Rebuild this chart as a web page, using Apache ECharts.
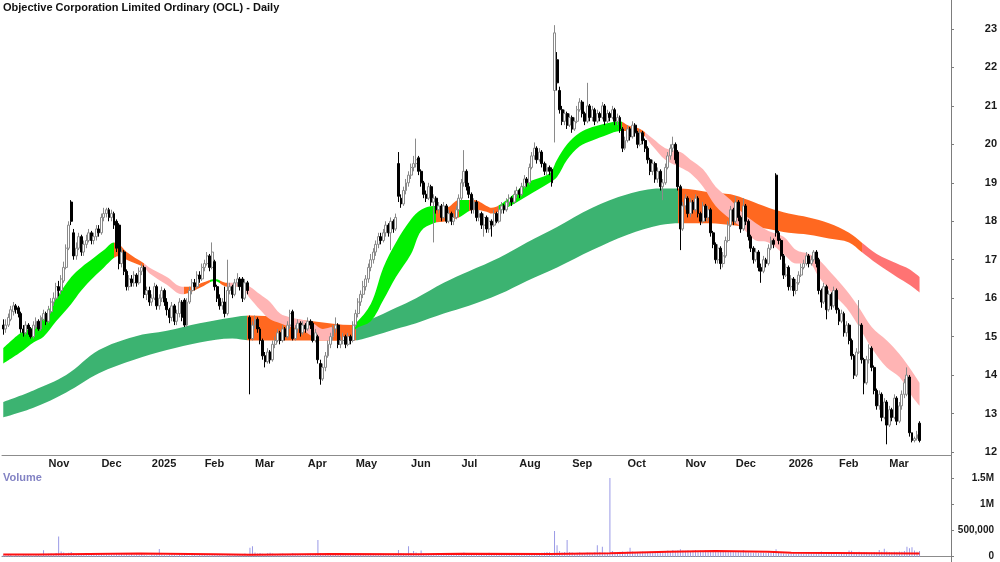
<!DOCTYPE html>
<html>
<head>
<meta charset="utf-8">
<title>OCL Daily</title>
<script src="https://cdn.jsdelivr.net/npm/echarts@6/dist/echarts.min.js"></script>
<style>
  html, body { margin: 0; padding: 0; background: #fff; }
  #chart { width: 1000px; height: 562px; }
</style>
</head>
<body>
<div id="chart"></div>
<script>
// ---- trading calendar ----
const startDate = '2024-10-08'
const holidays = ['2024-12-25', '2024-12-26', '2025-01-01', '2025-01-27', '2025-04-18', '2025-04-21',
  '2025-04-25', '2025-06-09', '2025-12-25', '2025-12-26', '2026-01-01', '2026-01-26']
const padDays = 12 // empty space right of the last bar
const monthNames = ['Jan', 'Feb', 'Mar', 'Apr', 'May', 'Jun', 'Jul', 'Aug', 'Sep', 'Oct', 'Nov', 'Dec']

// ---- daily bars [open, close, low, high] ----
const candles = [
  // Oct 2024
  [15.3,15.2,15.05,15.45],[15.2,15.3,15.1,15.45],[15.3,15.5,15.25,15.6],[15.45,15.7,15.4,15.8],[15.65,15.8,15.55,15.9],
  [15.8,15.7,15.6,15.85],[15.75,15.6,15.5,15.8],[15.6,15.2,15.1,15.65],[15.2,15.1,15.0,15.3],[15.1,15.3,15.05,15.4],
  [15.3,15.2,15.05,15.35],[15.2,15.0,14.95,15.25],[15.0,15.3,14.95,15.4],[15.25,15.4,15.2,15.5],[15.4,15.2,15.15,15.45],
  [15.2,15.5,15.15,15.55],[15.45,15.6,15.4,15.7],[15.6,15.4,15.3,15.65],
  // Nov
  [15.4,15.7,15.35,15.8],[15.65,15.9,15.6,16.0],[15.9,16.0,15.8,16.15],[16.0,16.3,15.95,16.4],[16.3,16.2,16.05,16.45],
  [16.2,16.5,16.1,16.6],[16.45,16.8,16.4,16.95],[16.8,17.3,16.75,17.4],[17.3,17.9,17.25,18.0],[18.5,18.0,17.9,18.55],
  [17.7,17.1,17.0,17.8],[17.1,17.3,17.0,17.45],[17.3,17.6,17.25,17.7],[17.6,17.2,17.1,17.65],[17.2,17.4,17.1,17.5],
  [17.4,17.5,17.3,17.65],[17.5,17.7,17.45,17.8],[17.7,17.5,17.4,17.75],[17.5,17.6,17.4,17.7],[17.6,17.8,17.5,17.9],
  [17.8,17.7,17.6,17.9],
  // Dec
  [17.7,18.1,17.65,18.2],[18.1,18.2,18.0,18.35],[18.2,18.3,18.1,18.35],[18.3,18.1,18.0,18.35],[18.1,18.2,18.0,18.3],
  [18.2,17.9,17.8,18.25],[18.0,17.3,17.2,18.05],[17.9,16.9,16.75,17.95],[16.9,17.2,16.8,17.3],[17.2,16.7,16.6,17.25],
  [16.7,16.3,16.2,16.75],[16.3,16.5,16.2,16.6],[16.5,16.4,16.3,16.6],[16.4,16.6,16.3,16.7],[16.6,16.4,16.3,16.65],
  [16.4,16.7,16.35,16.8],[16.7,16.8,16.6,16.9],[16.8,16.1,16.0,16.85],[16.1,16.2,15.95,16.3],[16.2,15.9,15.8,16.3],
  // Jan 2025
  [15.9,16.0,15.8,16.1],[16.0,16.3,15.95,16.4],[16.3,15.8,15.7,16.35],[15.8,16.0,15.7,16.1],[16.0,16.2,15.9,16.3],
  [16.2,15.9,15.8,16.25],[15.9,15.7,15.55,16.0],[15.7,15.5,15.35,15.75],[15.5,15.8,15.4,15.9],[15.8,15.4,15.3,15.85],
  [15.4,15.6,15.3,15.7],[15.6,15.9,15.5,16.0],[15.9,15.5,15.4,15.95],[15.95,15.3,15.25,16.0],[15.3,15.9,15.25,16.0],
  [15.9,16.2,15.85,16.3],[16.2,16.4,16.1,16.5],[16.4,16.3,16.2,16.5],[16.3,16.6,16.25,16.7],[16.6,16.5,16.4,16.7],
  [16.5,16.8,16.45,16.9],
  // Feb
  [16.8,16.9,16.7,17.0],[16.9,17.1,16.85,17.2],[17.1,16.8,16.7,17.15],[16.8,17.2,16.75,17.45],[16.95,16.3,16.2,17.0],
  [16.3,16.0,15.9,16.35],[16.0,15.8,15.7,16.1],[15.8,15.9,15.7,16.0],[15.9,15.6,15.5,16.3],[15.6,16.2,15.55,17.0],
  [16.2,16.3,16.1,16.4],[16.3,16.1,16.0,16.35],[16.1,16.4,16.05,16.5],[16.4,16.5,16.3,16.65],[16.5,16.3,16.2,16.55],
  [16.5,16.0,15.9,16.55],[16.0,16.4,15.95,16.5],[16.4,16.2,16.1,16.45],[15.5,14.95,13.5,15.55],[14.95,15.3,14.9,15.4],
  // Mar
  [15.3,15.45,15.2,15.55],[15.45,15.2,15.1,15.5],[15.2,14.9,14.8,15.25],[14.9,14.5,14.4,14.95],[14.5,14.35,14.2,14.6],
  [14.35,14.6,14.3,14.7],[14.6,14.4,14.3,14.65],[14.4,14.8,14.35,14.9],[14.8,14.9,14.7,15.0],[14.9,15.1,14.85,15.2],
  [15.1,14.9,14.8,15.15],[14.9,15.2,14.85,15.3],[15.2,15.0,14.9,15.25],[15.0,15.3,14.95,15.4],[15.3,15.6,15.2,15.7],
  [15.65,14.95,14.9,15.7],[14.95,15.2,14.9,15.3],[15.2,15.35,15.1,15.45],[15.35,15.1,15.0,15.4],[15.1,15.3,15.05,15.4],
  [15.3,15.2,15.1,15.35],
  // Apr
  [15.2,15.4,15.15,15.5],[15.4,15.3,15.2,15.45],[15.35,14.9,14.85,15.4],[14.9,15.1,14.85,15.2],[15.0,14.4,14.3,15.05],
  [14.3,13.9,13.75,14.4],[13.9,14.2,13.85,14.3],[14.2,14.5,14.1,14.6],[14.5,14.8,14.45,14.9],[14.8,15.0,14.7,15.1],
  [15.0,15.2,14.9,15.3],[15.2,15.3,15.1,15.5],[15.3,14.8,14.7,15.35],[14.8,14.9,14.7,15.0],[14.9,15.0,14.8,15.1],
  [15.0,14.8,14.7,15.05],[14.8,15.0,14.75,15.1],[15.0,14.9,14.8,15.05],[14.9,15.3,14.85,15.4],
  // May
  [15.3,15.6,15.25,15.7],[15.6,15.9,15.5,16.0],[15.9,16.1,15.8,16.2],[16.1,16.3,16.0,16.45],[16.3,16.5,16.2,16.6],
  [16.5,16.8,16.4,16.9],[16.8,17.0,16.7,17.15],[17.0,17.2,16.9,17.3],[17.2,17.4,17.1,17.5],[17.4,17.6,17.3,17.7],
  [17.6,17.5,17.4,17.7],[17.5,17.7,17.45,17.8],[17.7,17.9,17.6,18.0],[17.9,17.7,17.6,17.95],[17.7,18.0,17.25,18.1],
  [18.0,17.8,17.7,18.05],[17.8,18.1,17.75,18.2],[19.5,18.65,18.5,19.8],[18.6,18.45,18.35,18.7],[18.45,18.8,18.4,18.9],
  [18.8,19.0,18.7,19.1],[19.0,19.2,18.9,19.3],
  // Jun
  [19.2,19.4,19.1,19.5],[19.4,19.5,19.3,19.7],[19.5,19.6,19.4,20.15],[19.65,19.3,19.2,19.7],[19.3,19.0,18.9,19.35],
  [19.0,18.7,18.6,19.05],[18.7,18.6,18.5,18.8],[18.6,18.9,18.55,19.0],[18.9,18.5,18.4,18.95],[18.5,18.6,17.45,18.7],
  [18.6,18.3,18.2,18.65],[18.3,18.4,18.2,18.5],[18.4,18.1,18.0,18.45],[18.1,18.4,18.05,18.5],[18.4,18.0,17.95,18.45],
  [18.0,18.2,17.95,18.3],[18.2,18.0,17.9,18.25],[18.0,18.1,17.9,18.2],[18.1,18.3,18.05,18.4],[18.3,18.6,18.25,18.7],
  // Jul
  [18.6,19.0,18.55,19.1],[19.0,19.3,18.9,19.85],[19.3,18.9,18.8,19.35],[18.9,18.7,18.6,19.0],[18.7,18.3,18.2,18.75],
  [18.3,18.5,18.2,18.6],[18.5,18.1,18.0,18.55],[18.1,18.2,18.0,18.3],[18.2,17.9,17.8,18.25],[17.9,18.1,17.6,18.2],
  [18.1,17.8,17.7,18.15],[17.8,18.0,17.7,18.1],[18.0,17.9,17.6,18.05],[17.9,18.2,17.85,18.3],[18.2,18.0,17.95,18.25],
  [18.0,18.3,17.95,18.4],[18.3,18.4,18.2,18.5],[18.4,18.3,18.2,18.45],[18.3,18.5,18.25,18.6],[18.5,18.6,18.4,18.7],
  [18.6,18.5,18.4,18.65],[18.5,18.7,18.45,18.8],[18.7,18.8,18.6,18.9],
  // Aug
  [18.8,18.7,18.6,18.85],[18.7,18.9,18.65,19.0],[18.9,19.1,18.85,19.2],[19.1,19.0,18.9,19.15],[19.0,19.4,18.95,19.5],
  [19.4,19.7,19.35,19.8],[19.7,19.9,19.6,20.05],[19.9,19.6,19.5,19.95],[19.6,19.8,19.55,19.9],[19.8,19.5,19.4,19.85],
  [19.5,19.3,19.2,19.55],[19.3,19.4,19.2,19.5],[19.4,19.3,19.2,19.45],[19.35,19.0,18.9,19.4],[21.4,22.9,20.05,23.1],
  [22.2,21.6,21.4,22.4],[21.4,20.9,20.8,21.5],[20.9,20.6,20.5,21.0],[20.6,20.8,20.5,20.9],[20.8,20.5,20.4,20.85],
  [20.5,20.7,20.45,20.8],
  // Sep
  [20.7,20.4,20.3,20.75],[20.4,20.6,20.35,20.7],[20.6,20.9,20.55,21.0],[20.9,21.1,20.85,21.2],[21.1,20.8,20.7,21.15],
  [20.8,20.6,20.5,20.85],[20.6,21.0,20.55,21.6],[21.0,20.7,20.6,21.05],[20.7,20.9,20.6,21.0],[20.9,20.6,20.5,20.95],
  [20.6,20.8,20.55,20.9],[20.8,20.7,20.6,20.85],[20.7,21.0,20.65,21.1],[21.0,20.6,20.5,21.05],[20.6,20.8,20.55,20.9],
  [20.8,20.7,20.6,20.85],[20.7,20.9,20.65,21.0],[20.9,20.6,20.5,20.95],[20.6,20.7,20.5,20.8],[20.7,20.4,20.3,20.75],
  [20.4,19.9,19.8,20.45],[19.9,20.1,19.85,20.2],
  // Oct
  [20.1,20.4,20.05,20.5],[20.4,20.2,20.1,20.45],[20.2,20.5,20.15,20.6],[20.5,20.3,20.2,20.55],[20.3,20.0,19.9,20.35],
  [20.0,20.3,19.95,20.4],[20.3,20.1,20.0,20.35],[20.1,19.9,19.8,20.15],[19.9,19.6,19.5,19.95],[19.6,19.3,19.2,19.65],
  [19.3,19.5,19.2,19.6],[19.5,19.1,19.0,19.55],[19.1,19.3,19.0,19.4],[19.3,18.9,18.8,19.35],[18.9,19.0,18.55,19.1],
  [19.0,19.4,18.95,19.5],[19.4,19.7,19.35,19.8],[19.7,19.9,19.6,20.0],[19.9,20.0,19.8,20.2],[20.0,19.6,19.5,20.05],
  [19.8,18.9,18.8,19.85],[18.9,17.8,17.25,18.95],[17.8,18.4,17.75,18.5],
  // Nov
  [18.4,18.6,18.3,18.7],[18.6,18.2,18.1,18.65],[18.2,18.5,18.1,18.6],[18.5,18.3,18.2,18.55],[18.3,18.6,18.25,18.7],
  [18.6,18.2,18.1,18.65],[18.2,18.0,17.9,18.25],[18.0,18.4,17.95,18.5],[18.4,18.1,18.0,18.45],[18.1,18.3,18.0,18.4],
  [18.3,17.7,17.6,18.35],[17.7,17.4,17.3,17.75],[17.4,17.0,16.9,17.45],[17.0,17.3,16.9,17.4],[17.3,16.9,16.75,17.35],
  [16.9,17.1,16.8,17.2],[17.1,17.5,17.05,17.6],[17.5,17.9,17.45,18.0],[17.9,18.3,17.85,18.4],[18.3,18.0,17.9,18.35],
  // Dec
  [18.0,18.5,17.95,18.65],[18.5,18.1,18.0,18.55],[18.1,17.8,17.7,18.15],[17.8,18.4,17.75,18.6],[18.4,18.0,17.9,18.45],
  [18.0,17.6,17.5,18.05],[17.6,17.3,17.2,17.65],[17.3,17.0,16.9,17.35],[17.0,17.2,16.95,17.3],[17.2,16.8,16.7,17.25],
  [16.8,16.7,16.4,16.9],[16.7,17.0,16.65,17.1],[17.0,16.9,16.8,17.05],[16.9,17.3,16.85,17.4],[17.3,17.5,17.25,17.6],
  [17.5,17.4,17.3,17.55],[19.2,17.7,17.6,19.25],[17.7,17.5,17.4,17.75],[17.5,17.1,17.0,17.55],[17.1,16.6,16.5,17.15],
  [16.6,16.8,16.55,16.9],
  // Jan 2026
  [16.8,16.3,16.2,16.85],[16.3,16.5,16.2,16.6],[16.5,16.2,16.05,16.55],[16.2,16.4,16.1,16.5],[16.4,16.6,16.35,16.7],
  [16.6,16.8,16.55,16.9],[16.8,16.9,16.75,17.0],[16.9,17.1,16.85,17.2],[17.1,16.9,16.8,17.15],[16.9,17.0,16.85,17.1],
  [17.0,17.2,16.95,17.25],[17.2,16.9,16.8,17.25],[17.0,16.2,16.1,17.05],[16.2,15.9,15.75,16.25],[15.9,16.3,15.85,16.4],
  [16.3,15.7,15.45,16.35],[15.7,16.1,15.65,16.2],[16.1,15.8,15.7,16.15],[15.8,16.2,15.75,16.3],[16.2,15.7,15.6,16.25],
  // Feb
  [15.7,15.4,15.3,15.75],[15.4,15.6,15.35,15.7],[15.6,15.1,15.0,15.65],[15.1,15.3,15.0,15.4],[15.3,14.9,14.8,15.35],
  [14.9,14.5,14.4,14.95],[14.5,14.0,13.9,14.55],[14.0,14.6,13.95,14.7],[14.6,15.3,14.55,15.95],[15.3,14.4,14.3,15.35],
  [14.4,13.8,13.5,14.45],[13.8,14.4,13.75,14.5],[14.4,14.7,14.3,14.8],[14.7,14.2,14.1,14.75],[14.2,13.6,13.5,14.25],
  [13.6,13.2,13.1,13.65],[13.2,13.5,13.1,13.6],[13.5,12.9,12.8,13.55],[12.9,13.3,12.85,13.4],[13.3,12.7,12.2,13.35],
  // Mar
  [12.7,13.1,12.65,13.2],[13.1,12.9,12.8,13.15],[12.9,13.4,12.85,13.5],[13.4,12.8,12.7,13.45],[12.8,13.2,12.75,13.3],
  [13.2,13.5,13.1,13.6],[13.5,13.8,13.4,13.9],[13.5,14.0,13.45,14.2],[13.95,12.5,12.4,14.0],[12.5,12.3,12.25,12.5],
  [12.3,12.35,12.25,12.4],[12.35,12.45,12.3,12.55],[12.75,12.3,12.25,12.8]
]

// ---- daily volume, thousands of shares ----
const volumesK = [
  30,25,40,35,20,45,30,25,50,35,40,30,25,35,45,30,125,40,
  55,60,45,70,385,100,80,60,75,90,65,50,60,45,55,50,60,45,55,40,50,
  55,60,45,50,40,65,70,55,50,45,60,40,50,35,45,40,50,35,30,25,
  40,35,45,145,40,35,30,40,45,35,30,40,35,45,30,25,35,40,30,35,45,
  40,35,30,45,50,40,35,30,25,40,35,30,45,40,35,50,60,45,170,200,
  80,60,70,55,50,65,75,60,50,45,55,60,50,45,40,70,55,50,45,40,50,
  55,60,50,45,320,70,55,50,45,40,35,45,50,40,35,45,40,35,50,
  45,50,55,40,45,50,60,55,50,45,60,55,50,45,40,55,60,130,70,60,55,200,
  70,110,80,60,120,60,55,50,45,60,50,45,40,50,45,40,45,50,45,55,
  70,80,65,50,60,55,70,50,45,55,60,75,50,45,55,60,50,65,55,45,50,60,55,
  50,55,60,45,50,55,60,70,65,75,80,90,85,70,490,220,110,80,90,320,90,
  80,70,75,85,70,65,80,75,70,85,220,90,190,80,75,1520,110,90,85,95,100,90,
  95,170,100,90,85,95,100,90,85,95,90,100,85,90,95,100,120,110,130,115,125,140,120,
  115,125,110,120,130,115,120,110,125,115,120,110,100,105,95,100,110,90,95,100,
  90,95,85,130,90,85,80,75,85,70,80,75,70,80,75,85,140,70,65,60,55,
  50,55,60,50,55,60,50,55,60,65,55,60,70,100,65,70,60,65,55,60,
  70,65,80,75,120,115,90,85,95,80,90,85,75,80,90,85,130,95,150,100,
  90,85,95,90,100,95,110,190,160,180,120,95,110
]
// average volume line (steps): bar index -> thousands
const volAvgIdx = [0, 14, 54, 84, 98, 130, 165, 182, 217, 241, 264, 283, 304, 313, 364]
const volAvgK = [40, 60, 45, 35, 50, 45, 55, 50, 65, 95, 110, 95, 75, 60, 60]

// ---- long-term average ribbon (read at sample bars) ----
const longIdx = [0,12,25,38,52,65,78,91,98,110,123,139,146,156,164,175,185,197,208,220,
  234,248,261,269,281,289,296,304,312,320,328,336,341,347,355,360,364]
const longUpper = [13.3,13.6,14.0,14.65,15.0,15.15,15.35,15.5,15.55,15.5,15.4,15.3,15.45,15.75,16.0,16.4,16.7,17.05,17.45,17.85,
  18.35,18.7,18.85,18.85,18.75,18.7,18.55,18.35,18.2,18.1,17.95,17.7,17.45,17.15,16.9,16.75,16.55]
const longLower = [12.9,13.15,13.55,14.05,14.4,14.65,14.85,14.95,14.9,14.9,14.9,14.9,15.0,15.2,15.35,15.6,15.8,16.1,16.45,16.8,
  17.25,17.65,17.9,17.95,17.95,17.9,17.85,17.8,17.7,17.65,17.55,17.45,17.2,16.9,16.55,16.35,16.15]
const longBreaks = [0, 97, 140, 268, 341]
const longStates = ['up', 'mixed', 'up', 'mixed', 'down']

// ---- short-term average ribbon ----
const shortIdx = [0,7,12,16,21,27,31,36,40,44,46,49,56,58,65,71,74,79,84,89,
  94,98,102,106,110,114,118,123,127,131,137,140,146,151,156,162,166,171,176,181,
  187,192,194,200,208,217,220,224,229,234,240,245,248,253,258,263,269,273,278,283,
  289,294,299,304,310,315,320,324,329,335,340,345,351,356,361,364]
const shortUpper = [14.7,15.1,15.25,15.5,16.0,16.55,16.8,17.05,17.25,17.45,17.4,17.2,16.9,16.8,16.55,16.3,16.3,16.4,16.5,16.4,
  16.4,16.3,16.1,15.9,15.6,15.5,15.45,15.35,15.2,15.25,15.25,15.35,15.85,16.8,17.45,18.05,18.3,18.4,18.35,18.55,
  18.55,18.4,18.35,18.55,19.0,19.25,19.6,20.0,20.3,20.45,20.55,20.6,20.5,20.4,20.15,19.9,19.8,19.6,19.35,18.9,
  18.55,18.2,17.95,17.75,17.6,17.25,17.15,17.0,16.65,16.2,15.75,15.25,14.9,14.55,14.1,13.8]
const shortLower = [14.3,14.6,14.85,15.0,15.4,15.85,16.2,16.55,16.8,17.05,17.1,17.0,16.8,16.65,16.35,16.1,16.15,16.3,16.45,16.3,
  16.3,16.0,15.7,15.45,15.35,15.25,15.2,15.0,14.9,14.9,14.9,15.2,15.4,15.95,16.55,17.15,17.75,17.95,18.0,18.1,
  18.3,18.25,18.2,18.35,18.65,19.0,19.15,19.6,19.95,20.1,20.25,20.35,20.35,20.3,19.95,19.6,19.4,19.25,18.9,18.4,
  18.05,17.8,17.5,17.45,17.15,16.9,16.9,16.55,16.15,15.75,15.25,14.7,14.2,13.95,13.45,13.2]
const shortBreaks = [0, 44, 56, 72, 82, 86, 89, 131, 139, 172, 181, 185, 197, 246, 255]
const shortStates = ['up', 'mixed', 'down', 'mixed', 'up', 'mixed', 'down', 'mixed', 'up', 'mixed', 'up', 'mixed', 'up', 'mixed', 'down']

const FONT = 'Arial, "Liberation Sans", sans-serif'
const shortColors = { up: '#00f000', mixed: '#ff6820', down: '#ffb4b4' }
const longColors = { up: '#3cb371', mixed: '#ff6820', down: '#ff7373' }

function buildDates () {
    const out = []
    const d = new Date(startDate + 'T00:00:00Z')
    while (out.length < candles.length) {
        const wd = d.getUTCDay()
        const key = d.toISOString().slice(0, 10)
        if (wd !== 0 && wd !== 6 && holidays.indexOf(key) < 0) out.push(key)
        d.setUTCDate(d.getUTCDate() + 1)
    }
    for (let i = 0; i < padDays; i++) out.push('')
    return out
}
const dates = buildDates()

function isMonthStart (idx) {
    if (idx === 0 || !dates[idx] || !dates[idx - 1]) return false
    return dates[idx].slice(5, 7) !== dates[idx - 1].slice(5, 7)
}
function monthLabel (value) {
    const m = +value.slice(5, 7)
    return m === 1 ? value.slice(0, 4) : monthNames[m - 1]
}

function pairs (idx, vals) {
    return idx.map(function (x, k) { return [x, vals[k]] })
}
function widths (idx, up, lo) {
    return idx.map(function (x, k) { return [x, +(up[k] - lo[k]).toFixed(3)] })
}
function pieces (breaks, states, colors) {
    return breaks.map(function (b, k) {
        const p = { gte: b, color: colors[states[k]] }
        if (k < breaks.length - 1) p.lt = breaks[k + 1]
        else p.lte = 1000
        return p
    })
}

function ribbon (stackName, idx, up, lo, z) {
    return [
        {
            type: 'line', stack: stackName, data: pairs(idx, lo),
            smooth: 0.35, symbol: 'none', silent: true, z: z,
            lineStyle: { width: 0, opacity: 0 }
        },
        {
            type: 'line', stack: stackName, data: widths(idx, up, lo),
            smooth: 0.35, symbol: 'none', silent: true, z: z,
            lineStyle: { width: 0 },
            areaStyle: { opacity: 1 }
        }
    ]
}

const myChart = echarts.init(document.getElementById('chart'), null, { renderer: 'canvas' })

const option = {
    animation: false,
    backgroundColor: '#ffffff',
    title: [
        {
            text: 'Objective Corporation Limited Ordinary (OCL) - Daily',
            left: 3, top: 2, padding: 0,
            textStyle: { fontFamily: FONT, fontSize: 11, fontWeight: 'bold', color: '#111' }
        },
        {
            text: 'Volume',
            left: 3, top: 472, padding: 0,
            textStyle: { fontFamily: FONT, fontSize: 11, fontWeight: 'bold', color: '#8383c4' }
        }
    ],
    grid: [
        { left: 2, right: 49, top: 29, bottom: 110, containLabel: false, outerBoundsMode: 'none' },
        { left: 2, right: 49, top: 478, bottom: 5.3, containLabel: false, outerBoundsMode: 'none' }
    ],
    xAxis: [
        {
            type: 'category', gridIndex: 0, data: dates, boundaryGap: true, offset: 3,
            axisLine: { lineStyle: { color: '#8c8c8c', width: 1 } },
            axisTick: { interval: isMonthStart, length: 3, lineStyle: { color: '#8c8c8c' } },
            axisLabel: {
                interval: isMonthStart, formatter: monthLabel, align: 'left', margin: 3,
                fontFamily: FONT, fontSize: 11, fontWeight: 'bold', color: '#1a1a1a'
            },
            splitLine: { show: false }
        },
        {
            type: 'category', gridIndex: 1, data: dates, boundaryGap: true,
            position: 'top', offset: 9,
            axisLine: { lineStyle: { color: '#8c8c8c', width: 1 } },
            axisTick: { show: false },
            axisLabel: { show: false },
            splitLine: { show: false }
        }
    ],
    yAxis: [
        {
            type: 'value', gridIndex: 0, position: 'right', min: 12, max: 23, interval: 1,
            axisLine: { show: false },
            axisTick: { show: true, length: 3, lineStyle: { color: '#7d7d7d' } },
            axisLabel: {
                align: 'right', margin: 46,
                fontFamily: FONT, fontSize: 11, fontWeight: 'bold', color: '#1a1a1a'
            },
            splitLine: { show: false }
        },
        {
            type: 'value', gridIndex: 1, position: 'right', min: 0, max: 1500000, interval: 500000,
            axisLine: { show: false },
            axisTick: { show: true, length: 3, lineStyle: { color: '#7d7d7d' } },
            axisLabel: {
                align: 'right', margin: 43,
                fontFamily: FONT, fontSize: 10, fontWeight: 'bold', color: '#1a1a1a',
                formatter: function (v) {
                    if (v === 0) return '0'
                    if (v >= 1000000) return (v / 1000000) + 'M'
                    return v.toLocaleString('en-US')
                }
            },
            splitLine: { show: false }
        }
    ],
    visualMap: [
        { type: 'piecewise', show: false, seriesIndex: 1, dimension: 0, pieces: pieces(longBreaks, longStates, longColors) },
        { type: 'piecewise', show: false, seriesIndex: 3, dimension: 0, pieces: pieces(shortBreaks, shortStates, shortColors) }
    ],
    series: [].concat(
        ribbon('long', longIdx, longUpper, longLower, 1),
        ribbon('short', shortIdx, shortUpper, shortLower, 2),
        [
            {
                type: 'candlestick', xAxisIndex: 0, yAxisIndex: 0, data: candles,
                barWidth: 2.4, clip: false, silent: true, z: 5,
                itemStyle: {
                    color: '#ffffff', color0: '#000000',
                    borderColor: '#8a8a8a', borderColor0: '#000000', borderWidth: 1
                }
            },
            {
                type: 'bar', xAxisIndex: 1, yAxisIndex: 1, silent: true,
                data: volumesK.map(function (v) { return v * 1000 }),
                barWidth: 1, itemStyle: { color: '#9a9ae6' }
            },
            {
                type: 'line', xAxisIndex: 1, yAxisIndex: 1, silent: true, step: 'end',
                data: volAvgIdx.map(function (x, k) { return [x, volAvgK[k] * 1000] }),
                symbol: 'none', lineStyle: { color: '#ff1010', width: 2 }, z: 4
            }
        ]
    ),
    graphic: [
        {
            type: 'line', silent: true,
            shape: { x1: 951.5, y1: 0, x2: 951.5, y2: 562 },
            style: { stroke: '#7d7d7d', lineWidth: 1 }
        }
    ]
}
option && myChart.setOption(option)
</script>
</body>
</html>
